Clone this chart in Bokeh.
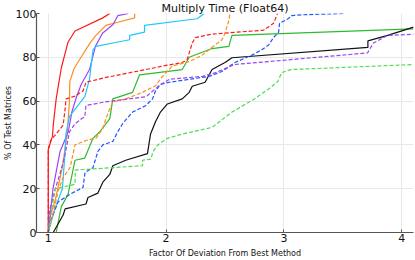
from bokeh.plotting import figure
from bokeh.embed import file_html
from bokeh.resources import INLINE
from bokeh.models import FixedTicker, Range1d

title = "Multiply Time (Float64)"
x_label = "Factor Of Deviation From Best Method"
y_label = "% Of Test Matrices"
x_ticks = [1, 2, 3, 4]
y_ticks = [0, 20, 40, 60, 80, 100]

red_x = [1.0, 1.0, 1.036, 1.042, 1.067, 1.11, 1.168, 1.227, 1.463, 1.522]
red_y = [0, 38, 44, 49, 61, 75, 87, 92, 98, 100]

orange_x = [1.0, 1.02, 1.06, 1.12, 1.16, 1.18, 1.183, 1.22, 1.278, 1.354, 1.404, 1.489, 1.59, 1.733, 1.733]
orange_y = [0, 8, 15, 30, 45, 60, 69, 75, 80, 86.5, 90, 94.6, 96, 98, 100]

purple_x = [1.0, 1.02, 1.04, 1.1, 1.17, 1.2, 1.24, 1.28, 1.35, 1.4, 1.46, 1.55, 1.59, 1.68]
purple_y = [0, 10, 20, 37, 46, 55, 62, 67.7, 74.4, 85, 91, 95, 99, 100]

cyan_x = [1.0, 1.05, 1.12, 1.14, 1.15, 1.18, 1.31, 1.35, 1.38, 1.404, 1.59, 1.691, 1.691, 1.817, 1.817, 2.264, 2.323]
cyan_y = [0, 10, 20, 35, 45, 53, 62, 70, 83.4, 85, 87, 88, 90, 91.5, 94.6, 97.6, 100]

green_x = [1.067, 1.11, 1.168, 1.227, 1.31, 1.379, 1.438, 1.522, 1.548, 1.716, 1.775, 2.137, 2.196, 2.39, 2.533, 2.559, 4.1]
green_y = [0, 11.7, 17.5, 33, 34, 43, 46, 52, 61, 64, 72, 74.4, 80, 84, 85, 90, 93]

black_x = [1.042, 1.126, 1.143, 1.32, 1.337, 1.421, 1.463, 1.522, 1.548, 1.657, 1.842, 1.868, 1.91, 1.952,
           2.011, 2.137, 2.196, 2.222, 2.331, 2.39, 2.5, 2.559, 3.713, 3.713, 3.881, 4.1]
black_y = [0, 8, 10.8, 13, 16, 18, 23, 26.5, 30.5, 33, 36, 45, 50.6, 55,
           58.7, 61, 64, 66.8, 68.6, 74.4, 77.6, 79.8, 84.5, 87.5, 90, 93.8]

blue_d_x = [1.0, 1.017, 1.084, 1.185, 1.295, 1.312, 1.379, 1.421, 1.463, 1.548, 1.59, 1.632, 1.716, 1.826,
            1.885, 1.91, 1.952, 2.028, 2.365, 2.474, 2.584, 2.727, 2.811, 2.87, 2.912, 2.955, 2.963, 3.039,
            3.064, 3.148, 3.51]
blue_d_y = [0, 5, 14, 17.5, 20.6, 27.4, 29.6, 37, 40, 41.6, 46, 49.8, 55, 57.9,
            61, 64.6, 67.7, 68.6, 71.3, 73.5, 77.6, 81, 83.4, 85.6, 89, 91.5, 95.5, 97.7,
            99, 99.4, 100]

red_d_x = [1.0, 1.0, 1.02, 1.067, 1.126, 1.143, 1.151, 1.227, 1.295, 1.32, 1.489, 1.742, 1.885, 1.969,
           2.137, 2.179, 2.222, 2.247, 2.39, 2.828, 2.912, 2.946]
red_d_y = [0, 38, 42, 45, 49, 56.5, 61, 62.3, 64.6, 68.6, 70.8, 73.5, 75, 76,
           77.6, 79, 86.5, 89, 90.6, 92.4, 95.5, 100]

orange_d_x = [1.0, 1.025, 1.084, 1.126, 1.185, 1.227, 1.32, 1.404, 1.463, 1.489, 1.522, 1.548, 1.657, 1.8,
              1.91, 1.969, 2.053, 2.196, 2.306, 2.415, 2.474, 2.5, 2.533, 2.542]
orange_d_y = [0, 5, 19, 25, 29.6, 40, 42, 43, 47.5, 52, 56.5, 59.6, 61, 64,
              67, 71.3, 76, 78, 81, 85.6, 88, 91, 96.9, 100]

purple_d_x = [1.0, 1.01, 1.06, 1.1, 1.14, 1.18, 1.23, 1.31, 1.32, 1.48, 1.83, 1.94, 2.03, 2.31, 2.42,
              2.58, 3.71, 3.76, 3.88, 4.1]
purple_d_y = [0, 10, 20, 27, 35, 46, 49.8, 53, 58, 59.6, 62, 67, 70, 71.3, 73,
              76.7, 82, 86.5, 90, 90.5]

green_d_x = [1.0, 1.02, 1.06, 1.227, 1.23, 1.8, 1.8, 1.87, 1.89, 1.93, 2.01, 2.14, 2.39, 2.56, 2.75,
             2.87, 2.95, 2.98, 3.06, 4.1]
green_d_y = [0, 8, 20, 22, 28.5, 30.5, 33, 33.5, 37, 40, 43, 45, 48, 55, 61,
             65.5, 69, 73, 74.4, 76.7]

series = [
    (red_x, red_y, "#ff1a1a", "solid"),
    (orange_x, orange_y, "#ff8c1a", "solid"),
    (purple_x, purple_y, "#9b45f5", "solid"),
    (cyan_x, cyan_y, "#1ec8ff", "solid"),
    (green_x, green_y, "#2dbb2d", "solid"),
    (black_x, black_y, "#111111", "solid"),
    (blue_d_x, blue_d_y, "#1f55ff", "4 2"),
    (red_d_x, red_d_y, "#ff1a1a", "4 2"),
    (orange_d_x, orange_d_y, "#ff8c1a", "4 2"),
    (purple_d_x, purple_d_y, "#9b45f5", "4 2"),
    (green_d_x, green_d_y, "#4fdc4f", "4 2"),
]

p = figure(width=415, height=260, output_backend="svg", toolbar_location=None,
           x_range=Range1d(0.9, 4.1), y_range=Range1d(0, 100),
           min_border_left=0, min_border_right=2, min_border_top=0, min_border_bottom=0)

for xs, ys, c, dash in series:
    p.line(xs, ys, line_color=c, line_width=1.2, line_dash=dash)

p.title.text = title
p.title.align = "center"
p.title.text_font = "DejaVu Sans"
p.title.text_font_size = "11px"
p.title.text_font_style = "normal"
p.title.text_color = "#111111"
p.title.offset = 40
p.title.standoff = -2

p.xaxis.axis_label = x_label
p.yaxis.axis_label = y_label
for ax in (p.xaxis, p.yaxis):
    ax.axis_label_text_font = "DejaVu Sans"
    ax.axis_label_text_font_size = "8px"
    ax.axis_label_text_font_style = "normal"
    ax.axis_label_text_color = "#111111"
    ax.major_label_text_font = "DejaVu Sans"
    ax.major_label_text_font_size = "11px"
    ax.major_label_text_color = "#111111"
    ax.axis_line_color = "#555555"
    ax.axis_line_width = 1.2
    ax.major_tick_in = 3
    ax.major_tick_out = 0
    ax.major_tick_line_color = "#555555"
    ax.minor_tick_line_color = None
p.xaxis.axis_label_standoff = 4
p.yaxis.axis_label_standoff = 0
p.xaxis.major_label_standoff = 1
p.yaxis.major_label_standoff = 0
p.xaxis.ticker = FixedTicker(ticks=x_ticks)
p.yaxis.ticker = FixedTicker(ticks=y_ticks)

p.xgrid.ticker = FixedTicker(ticks=x_ticks)
p.ygrid.ticker = FixedTicker(ticks=y_ticks)
p.grid.grid_line_color = "#e8e8e8"
p.grid.grid_line_width = 1
p.outline_line_color = None
p.background_fill_color = "white"
p.border_fill_color = "white"

open("out.html", "w").write(file_html(p, INLINE))
